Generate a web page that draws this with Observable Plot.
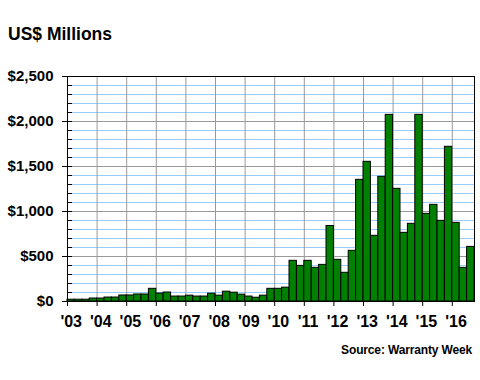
<!DOCTYPE html>
<html><head><meta charset="utf-8">
<script src="https://cdn.jsdelivr.net/npm/d3@7"></script>
<script src="https://cdn.jsdelivr.net/npm/@observablehq/plot@0.6"></script>
<style>
body{margin:0;background:#fff;font-family:"Liberation Sans",Arial,sans-serif;}
#wrap{position:relative;width:480px;height:380px;overflow:hidden;background:#fff;}
#title{position:absolute;left:8px;top:26px;font-weight:bold;font-size:17.5px;line-height:17px;color:#000;white-space:nowrap;}
#chart{position:absolute;left:0;top:50px;}
#source{position:absolute;right:8px;top:344px;font-weight:bold;font-size:12px;line-height:12px;color:#000;white-space:nowrap;letter-spacing:-0.15px;}
</style>
</head><body>
<div id="wrap">
  <div id="title">US$ Millions</div>
  <div id="chart"></div>
  <div id="source">Source: Warranty Week</div>
</div>
<script>
// Quarterly values, 2003 Q1 – 2016 Q3 (US$ millions)
const values = [
  20, 20, 20, 33,
  33, 44, 44, 67,
  67, 78, 78, 141,
  89, 100, 55, 55,
  65, 55, 55, 87,
  65, 109, 98, 76,
  55, 42, 65, 141,
  141, 154, 452, 396,
  452, 374, 407, 839,
  463, 319, 563, 1352,
  1552, 730, 1385, 2074,
  1252, 763, 863, 2074,
  974, 1074, 896, 1719,
  874, 374, 607
];
const yearLabels = ["'03","'04","'05","'06","'07","'08","'09","'10","'11","'12","'13","'14","'15","'16"];
const majorY = [0, 500, 1000, 1500, 2000, 2500];
const minorY = [100,200,300,400,500,600,700,800,900,1000,1100,1200,1300,1400,1500,1600,1700,1800,1900,2000,2100,2200,2300,2400];

const bars = values.map((v, i) => ({i, v}));
const years = yearLabels.map((label, k) => ({label, start: k * 4}));

const W = 480, H = 280, mL = 67, mR = 6;
const plot = Plot.plot({
  width: W, height: H,
  marginTop: 26, marginBottom: 29, marginLeft: mL, marginRight: mR,
  x: {domain: [0, values.length], axis: null},
  y: {domain: [0, 2500], axis: null},
  style: {fontFamily: "'Liberation Sans', Arial, sans-serif", overflow: "visible", background: "#fff"},
  marks: [
    Plot.ruleY(minorY, {stroke: "#99ccff", strokeWidth: 1}),
    Plot.ruleY(majorY, {stroke: "#999999", strokeWidth: 1}),
    Plot.ruleX(years.slice(1), {x: "start", stroke: "#999999", strokeWidth: 1}),
    Plot.ruleY(minorY, {stroke: "#000", insetRight: (W - mL - mR) - 5}),
    Plot.rectY(bars, {x1: "i", x2: d => d.i + 1, y: "v", fill: "#008000", stroke: "#000", strokeWidth: 1}),
    Plot.frame({stroke: "#000"}),
    Plot.axisY({ticks: majorY, tickSize: 5, tickPadding: 9, tickFormat: d => "$" + d3.format(",")(d),
      label: null, fontSize: 15, fontWeight: "bold", color: "#000"}),
    Plot.axisX({ticks: years.map(d => d.start), tickSize: 5, tickFormat: () => "", label: null, color: "#000"}),
    Plot.text(years, {x: d => d.start + 0.5, y: () => 0, text: "label", dy: 14, lineAnchor: "top",
      fontSize: 16, fontWeight: "bold", fill: "#000"})
  ]
});
document.getElementById("chart").appendChild(plot);
</script>
</body></html>
